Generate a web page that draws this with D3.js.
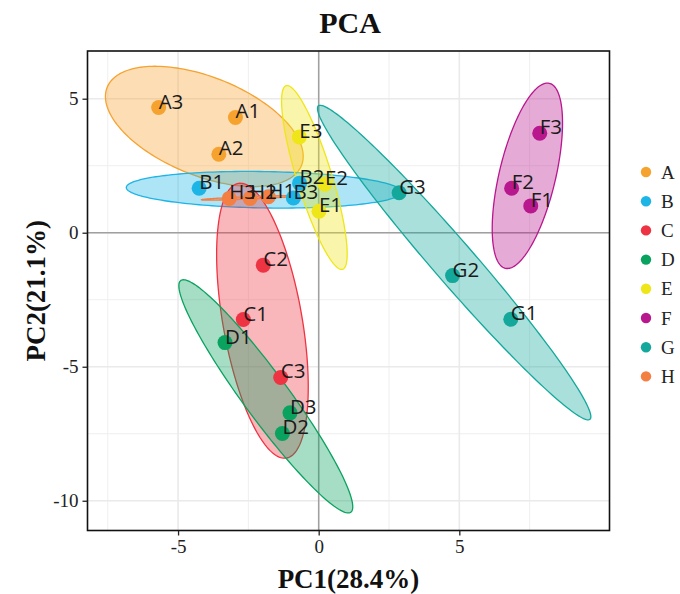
<!DOCTYPE html>
<html>
<head>
<meta charset="utf-8">
<script src="https://cdn.jsdelivr.net/npm/d3@7"></script>
<style>
  html, body { margin: 0; padding: 0; background: #fff; }
  svg { display: block; }
</style>
</head>
<body>
<svg id="chart" width="680" height="594"></svg>
<script>
// Groups and their colours
const groups = ["A", "B", "C", "D", "E", "F", "G", "H"];
const groupColors = ["#F6A22F", "#1DB4E6", "#EE3442", "#09A25E", "#EEE619", "#B8178E", "#13A89B", "#F47F43"];

// Sample scores on the first two principal components
const samples = ["A1", "A2", "A3", "B1", "B2", "B3", "C1", "C2", "C3", "D1", "D2", "D3",
                 "E1", "E2", "E3", "F1", "F2", "F3", "G1", "G2", "G3", "H1", "H2", "H3"];
const sampleGroup = ["A", "A", "A", "B", "B", "B", "C", "C", "C", "D", "D", "D",
                     "E", "E", "E", "F", "F", "F", "G", "G", "G", "H", "H", "H"];
const pc1 = [-2.96, -3.55, -5.69, -4.25, -0.68, -0.90, -2.68, -1.97, -1.35, -3.33, -1.29, -1.02,
              0.01,  0.22, -0.69,  7.54,  6.86,  7.86,  6.83,  4.76,  2.86, -1.79, -2.44, -3.18];
const pc2 = [ 4.30,  2.93,  4.67,  1.66,  1.85,  1.30, -3.24, -1.21, -5.40, -4.10, -7.49, -6.72,
              0.80,  1.81,  3.57,  1.00,  1.66,  3.71, -3.23, -1.60,  1.49,  1.34,  1.28,  1.28];

// Axis ticks and titles
const xTicks = [-5, 0, 5];
const yTicks = [5, 0, -5, -10];
const xMinor = [-7.5, -2.5, 2.5, 7.5];
const yMinor = [2.5, -2.5, -7.5];
const chartTitle = "PCA";
const xTitle = "PC1(28.4%)";
const yTitle = "PC2(21.1%)";

// 95% confidence level for the group ellipses (chi-square, 2 df)
const ellipseLevel = 0.95;

const svg = d3.select("#chart");
const panel = { left: 87.5, right: 609.5, top: 51, bottom: 530.5 };

const x = d3.scaleLinear().domain([-8.22, 10.34]).range([panel.left, panel.right]);
const y = d3.scaleLinear().domain([6.78, -11.11]).range([panel.top, panel.bottom]);
const color = d3.scaleOrdinal().domain(groups).range(groupColors);

const points = samples.map((s, i) => ({ name: s, group: sampleGroup[i], x: pc1[i], y: pc2[i] }));

// Data ellipse of a group from its mean and sample covariance
function ellipsePath(pts) {
  const n = pts.length;
  const mx = d3.mean(pts, d => d.x), my = d3.mean(pts, d => d.y);
  let sxx = 0, syy = 0, sxy = 0;
  pts.forEach(d => {
    sxx += (d.x - mx) ** 2; syy += (d.y - my) ** 2; sxy += (d.x - mx) * (d.y - my);
  });
  sxx /= (n - 1); syy /= (n - 1); sxy /= (n - 1);
  const tr = sxx + syy, det = sxx * syy - sxy * sxy;
  const disc = Math.sqrt(Math.max(0, tr * tr / 4 - det));
  const l1 = tr / 2 + disc, l2 = Math.max(0, tr / 2 - disc);
  const theta = Math.abs(sxy) < 1e-12 ? (sxx >= syy ? 0 : Math.PI / 2) : Math.atan2(l1 - sxx, sxy);
  const k = Math.sqrt(-2 * Math.log(1 - ellipseLevel));
  const a = k * Math.sqrt(l1), b = k * Math.sqrt(l2);
  const ring = d3.range(0, 361, 2).map(deg => {
    const t = deg * Math.PI / 180;
    const ex = a * Math.cos(t), ey = b * Math.sin(t);
    return [x(mx + ex * Math.cos(theta) - ey * Math.sin(theta)),
            y(my + ex * Math.sin(theta) + ey * Math.cos(theta))];
  });
  return d3.line()(ring) + "Z";
}

// Panel background, grid
svg.append("rect").attr("x", panel.left).attr("y", panel.top)
  .attr("width", panel.right - panel.left).attr("height", panel.bottom - panel.top)
  .attr("fill", "#fff");

const grid = svg.append("g");
grid.selectAll(".xminor").data(xMinor).join("line")
  .attr("x1", d => x(d)).attr("x2", d => x(d)).attr("y1", panel.top).attr("y2", panel.bottom)
  .attr("stroke", "#EFEFEF").attr("stroke-width", 1);
grid.selectAll(".yminor").data(yMinor).join("line")
  .attr("y1", d => y(d)).attr("y2", d => y(d)).attr("x1", panel.left).attr("x2", panel.right)
  .attr("stroke", "#EFEFEF").attr("stroke-width", 1);
grid.selectAll(".xmajor").data(xTicks).join("line")
  .attr("x1", d => x(d)).attr("x2", d => x(d)).attr("y1", panel.top).attr("y2", panel.bottom)
  .attr("stroke", "#EAEAEA").attr("stroke-width", 1.6);
grid.selectAll(".ymajor").data(yTicks).join("line")
  .attr("y1", d => y(d)).attr("y2", d => y(d)).attr("x1", panel.left).attr("x2", panel.right)
  .attr("stroke", "#EAEAEA").attr("stroke-width", 1.6);

// Reference lines through the origin
svg.append("line").attr("x1", x(0)).attr("x2", x(0)).attr("y1", panel.top).attr("y2", panel.bottom)
  .attr("stroke", "#A0A0A0").attr("stroke-width", 1.5);
svg.append("line").attr("y1", y(0)).attr("y2", y(0)).attr("x1", panel.left).attr("x2", panel.right)
  .attr("stroke", "#A0A0A0").attr("stroke-width", 1.5);

// Clip ellipses to the panel
svg.append("clipPath").attr("id", "panelClip").append("rect")
  .attr("x", panel.left).attr("y", panel.top)
  .attr("width", panel.right - panel.left).attr("height", panel.bottom - panel.top);

const ell = svg.append("g").attr("clip-path", "url(#panelClip)");
groups.forEach(g => {
  const pts = points.filter(p => p.group === g);
  ell.append("path").attr("d", ellipsePath(pts))
    .attr("fill", color(g)).attr("fill-opacity", 0.36)
    .attr("stroke", color(g)).attr("stroke-width", 1.3);
});

// Sample points and labels
svg.append("g").selectAll("circle").data(points).join("circle")
  .attr("cx", d => x(d.x)).attr("cy", d => y(d.y)).attr("r", 7.5)
  .attr("fill", d => color(d.group));

svg.append("g").selectAll("text").data(points).join("text")
  .attr("x", d => x(d.x)).attr("y", d => y(d.y) + 1)
  .attr("font-family", "'Open Sans', 'Noto Sans', sans-serif").attr("font-size", 20.5)
  .attr("fill", "#1a1a1a")
  .text(d => d.name);

// Panel border
svg.append("rect").attr("x", panel.left).attr("y", panel.top)
  .attr("width", panel.right - panel.left).attr("height", panel.bottom - panel.top)
  .attr("fill", "none").attr("stroke", "#111").attr("stroke-width", 1.6);

// Axes
const serif = "'Liberation Serif', 'Times New Roman', serif";
const xAxis = svg.append("g").attr("transform", `translate(0,${panel.bottom})`)
  .call(d3.axisBottom(x).tickValues(xTicks).tickSize(5).tickPadding(4).tickFormat(d3.format("d")));
const yAxis = svg.append("g").attr("transform", `translate(${panel.left},0)`)
  .call(d3.axisLeft(y).tickValues(yTicks).tickSize(5).tickPadding(4).tickFormat(d3.format("d")));
[xAxis, yAxis].forEach(ax => {
  ax.select(".domain").remove();
  ax.selectAll(".tick line").attr("stroke", "#222").attr("stroke-width", 1.3);
  ax.selectAll(".tick text").attr("font-family", serif).attr("font-size", 19).attr("fill", "#222");
});
xAxis.selectAll(".tick text").text(d => d < 0 ? "-" + Math.abs(d) : d);
yAxis.selectAll(".tick text").text(d => d < 0 ? "-" + Math.abs(d) : d);

// Titles
svg.append("text").attr("x", 350).attr("y", 33).attr("text-anchor", "middle")
  .attr("font-family", serif).attr("font-weight", "bold").attr("font-size", 30)
  .attr("fill", "#111").text(chartTitle);
svg.append("text").attr("x", (panel.left + panel.right) / 2).attr("y", 588).attr("text-anchor", "middle")
  .attr("font-family", serif).attr("font-weight", "bold").attr("font-size", 27)
  .attr("fill", "#111").text(xTitle);
svg.append("text").attr("transform", `translate(45,${(panel.top + panel.bottom) / 2}) rotate(-90)`)
  .attr("text-anchor", "middle")
  .attr("font-family", serif).attr("font-weight", "bold").attr("font-size", 27)
  .attr("fill", "#111").text(yTitle);

// Legend
const legend = svg.append("g").attr("transform", "translate(646,172)");
const items = legend.selectAll("g").data(groups).join("g")
  .attr("transform", (d, i) => `translate(0,${i * 29.2})`);
items.append("circle").attr("r", 5.2).attr("fill", d => color(d));
items.append("text").attr("x", 15).attr("y", 6.5)
  .attr("font-family", serif).attr("font-size", 19).attr("fill", "#222").text(d => d);
</script>
</body>
</html>
